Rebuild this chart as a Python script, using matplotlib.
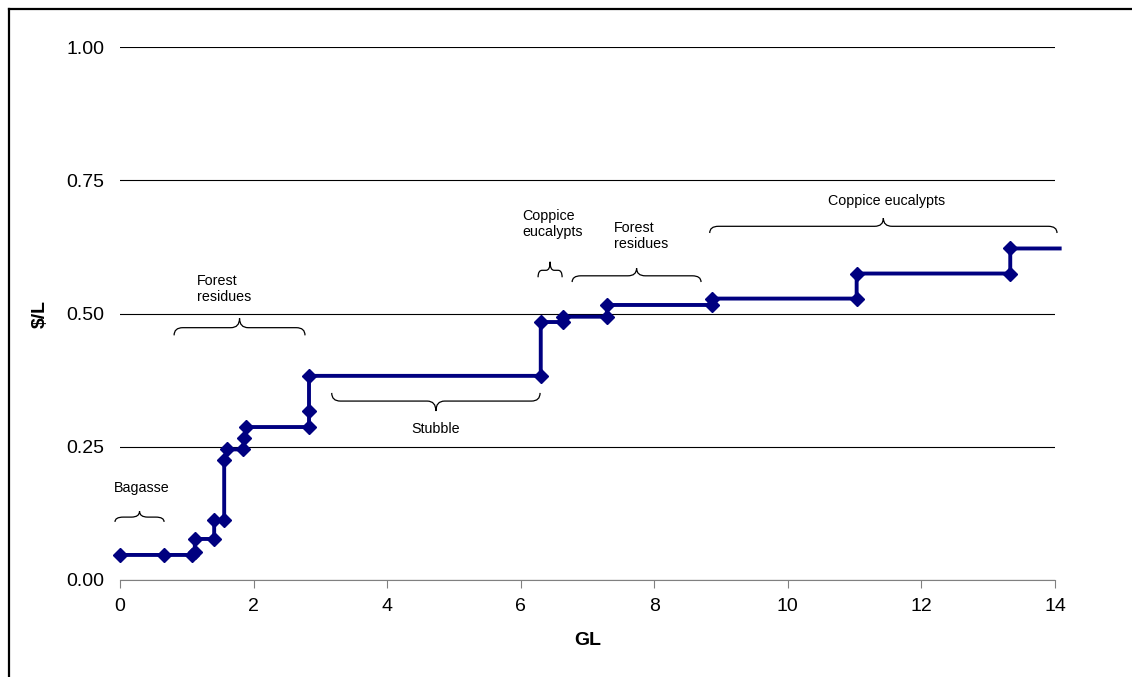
import matplotlib.pyplot as plt
from matplotlib.path import Path
from matplotlib.patches import PathPatch
from matplotlib.lines import Line2D

plt.rcParams['font.family'] = ['Liberation Sans', 'DejaVu Sans']

# Supply curve (step points, GL vs $/L)
gl = [0, 0.66, 1.08, 1.12, 1.12, 1.41, 1.41, 1.56, 1.56, 1.60, 1.84, 1.86,
      1.88, 2.83, 2.83, 2.83, 6.30, 6.30, 6.63, 6.63, 7.29, 7.29, 8.86, 8.86,
      11.03, 11.03, 13.33, 13.33, 14.07]
cost = [0.047, 0.047, 0.047, 0.053, 0.077, 0.077, 0.112, 0.112, 0.225, 0.245,
        0.245, 0.266, 0.287, 0.287, 0.318, 0.383, 0.383, 0.484, 0.484, 0.494,
        0.494, 0.516, 0.516, 0.528, 0.528, 0.575, 0.575, 0.622, 0.622]

# Brace annotations: label, x start, x end, y of ends, y of tip
brace_labels = ['Bagasse', 'Forest\nresidues', 'Stubble', 'Coppice\neucalypts',
                'Forest\nresidues', 'Coppice eucalypts']
brace_x0 = [-0.075, 0.81, 3.17, 6.26, 6.77, 8.83]
brace_x1 = [0.66, 2.77, 6.29, 6.62, 8.70, 14.03]
brace_yend = [0.109, 0.459, 0.351, 0.568, 0.559, 0.651]
brace_ytip = [0.129, 0.491, 0.317, 0.597, 0.585, 0.679]
label_x = [0.33, 1.15, 4.72, 6.03, 7.40, 11.48]
label_y = [0.173, 0.546, 0.283, 0.668, 0.646, 0.711]
label_ha = ['center', 'left', 'center', 'left', 'left', 'center']


def brace(ax, x0, x1, yend, ytip):
    xm = (x0 + x1) / 2
    yf = yend + 0.45 * (ytip - yend)
    r = min(0.13, (x1 - x0) / 6)
    verts = [(x0, yend), (x0, yf), (x0 + r, yf),
             (xm - r, yf),
             (xm, yf), (xm, ytip),
             (xm, yf), (xm + r, yf),
             (x1 - r, yf),
             (x1, yf), (x1, yend)]
    codes = [Path.MOVETO, Path.CURVE3, Path.CURVE3,
             Path.LINETO,
             Path.CURVE3, Path.CURVE3,
             Path.CURVE3, Path.CURVE3,
             Path.LINETO,
             Path.CURVE3, Path.CURVE3]
    ax.add_patch(PathPatch(Path(verts, codes), fill=False, lw=0.9,
                           edgecolor='black', clip_on=False))


fig = plt.figure(figsize=(11.32, 6.77), dpi=100)
ax = fig.add_axes([120 / 1132, 97 / 677, 935 / 1132, 533 / 677])

ax.plot(gl, cost, color='#000080', lw=2.8, marker='D', ms=7.5,
        markevery=list(range(len(gl) - 1)), clip_on=False, zorder=5)

for i in range(len(brace_labels)):
    brace(ax, brace_x0[i], brace_x1[i], brace_yend[i], brace_ytip[i])
    ax.text(label_x[i], label_y[i], brace_labels[i], ha=label_ha[i],
            va='center', fontsize=10.3, linespacing=1.2)

ax.set_xlim(0, 14)
ax.set_ylim(0, 1)
ax.set_xticks(range(0, 15, 2))
ax.set_yticks([0, 0.25, 0.5, 0.75, 1.0])
ax.set_yticklabels(['0.00', '0.25', '0.50', '0.75', '1.00'])
ax.grid(axis='y', color='black', lw=0.8)
ax.set_axisbelow(True)
for s in ['top', 'right', 'left']:
    ax.spines[s].set_visible(False)
ax.spines['bottom'].set_color('#808080')
ax.tick_params(axis='x', direction='out', length=6, color='#808080',
               labelsize=14, pad=7)
ax.tick_params(axis='y', length=0, labelsize=14, pad=11)
ax.set_xlabel('GL', fontsize=14, fontweight='bold', labelpad=12)
ax.set_ylabel(r'\$/L', fontsize=14, fontweight='bold', labelpad=13)

# outer frame (top and left edges only visible)
fig.add_artist(Line2D([9 / 1132, 1.0], [1 - 9 / 677, 1 - 9 / 677],
                      color='black', lw=1.6))
fig.add_artist(Line2D([9 / 1132, 9 / 1132], [0, 1 - 9 / 677],
                      color='black', lw=1.6))

fig.savefig('out.png', dpi=100)
